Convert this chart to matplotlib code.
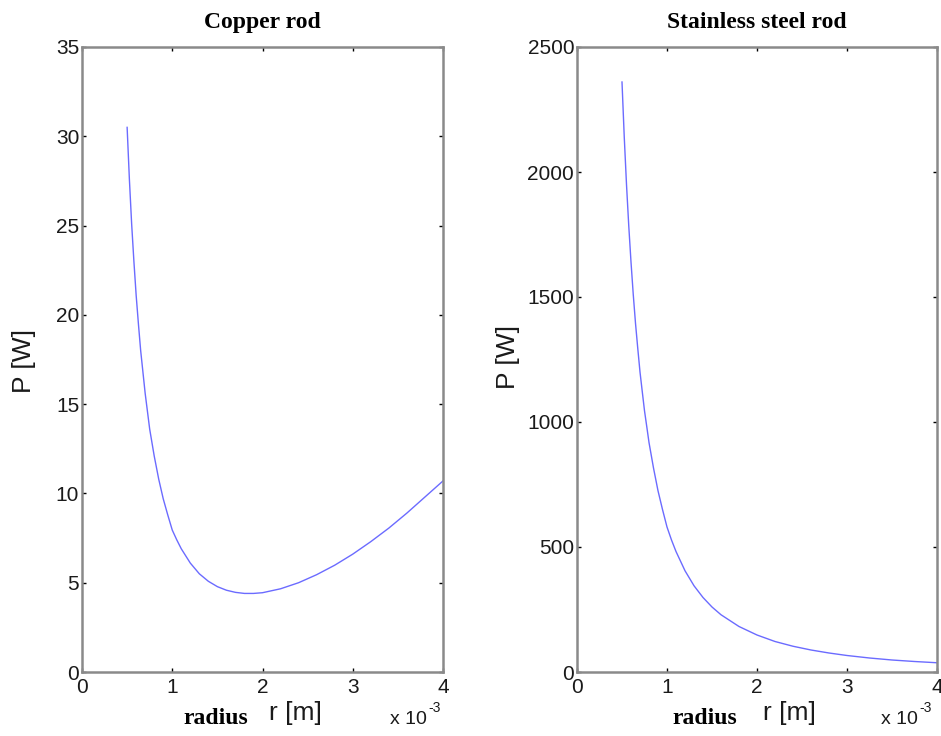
import matplotlib
matplotlib.use("Agg")
import matplotlib.pyplot as plt
from matplotlib.ticker import FuncFormatter

# radius [m] and power [W]
r_copper = [0.500e-3, 0.525e-3, 0.550e-3, 0.575e-3, 0.600e-3, 0.625e-3, 0.650e-3,
            0.675e-3, 0.700e-3, 0.725e-3, 0.750e-3, 0.775e-3, 0.800e-3, 0.850e-3,
            0.900e-3, 0.950e-3, 1.00e-3, 1.05e-3, 1.10e-3, 1.20e-3, 1.30e-3,
            1.40e-3, 1.50e-3, 1.60e-3, 1.70e-3, 1.80e-3, 1.90e-3, 2.00e-3,
            2.20e-3, 2.40e-3, 2.60e-3, 2.80e-3, 3.00e-3, 3.20e-3, 3.40e-3,
            3.60e-3, 3.80e-3, 4.00e-3]
p_copper = [30.5, 27.6, 25.1, 23.0, 21.1, 19.5, 18.0,
            16.8, 15.6, 14.6, 13.6, 12.85, 12.1, 10.8,
            9.7, 8.8, 7.95, 7.4, 6.9, 6.1, 5.5,
            5.08, 4.78, 4.58, 4.46, 4.40, 4.40, 4.44,
            4.66, 5.0, 5.45, 5.98, 6.6, 7.3, 8.06,
            8.9, 9.8, 10.7]

r_steel = [0.500e-3, 0.525e-3, 0.550e-3, 0.575e-3, 0.600e-3, 0.625e-3, 0.650e-3,
           0.675e-3, 0.700e-3, 0.725e-3, 0.750e-3, 0.775e-3, 0.800e-3, 0.850e-3,
           0.900e-3, 0.950e-3, 1.00e-3, 1.05e-3, 1.10e-3, 1.20e-3, 1.30e-3,
           1.40e-3, 1.50e-3, 1.60e-3, 1.80e-3, 2.00e-3, 2.20e-3, 2.40e-3,
           2.60e-3, 2.80e-3, 3.00e-3, 3.25e-3, 3.50e-3, 3.75e-3, 4.00e-3]
p_steel = [2360, 2140, 1950, 1785, 1640, 1510, 1395,
           1295, 1200, 1122, 1045, 982, 918, 816,
           725, 650, 580, 528, 482, 405, 345,
           298, 260, 229, 182, 148, 122, 103,
           88, 76, 66, 56, 48, 42, 37]

copper_yticks = [0, 5, 10, 15, 20, 25, 30, 35]
steel_yticks = [0, 500, 1000, 1500, 2000, 2500]
xticks = [0, 1e-3, 2e-3, 3e-3, 4e-3]

fig = plt.figure(figsize=(9.41, 7.36), dpi=100)
W, H = 941, 736

def style_axes(ax, yticks):
    ax.set_xlim(0, 4e-3)
    ax.set_ylim(yticks[0], yticks[-1])
    ax.set_xticks(xticks)
    ax.set_yticks(yticks)
    ax.xaxis.set_major_formatter(FuncFormatter(lambda v, p: f"{v * 1e3:g}"))
    ax.tick_params(direction="in", length=3, width=1, top=True, right=True,
                   labelsize=15, pad=2, colors="black")
    ax.tick_params(axis="x", pad=4)
    for lab in ax.get_xticklabels() + ax.get_yticklabels():
        lab.set_fontfamily("Liberation Sans")
        lab.set_color("#1a1a1a")
    for sp in ax.spines.values():
        sp.set_color("#8a8a8a")
        sp.set_linewidth(1.8)

# Copper rod
ax1 = fig.add_axes([82 / W, 1 - 672 / H, (443 - 82) / W, (672 - 47) / H])
ax1.plot(r_copper, p_copper, color="#6b6bff", linewidth=1.0)
style_axes(ax1, copper_yticks)
ax1.set_title("Copper rod", fontfamily="Liberation Serif", fontweight="bold",
              fontsize=17, pad=14)

# Stainless steel rod
ax2 = fig.add_axes([577 / W, 1 - 672 / H, (937 - 577) / W, (672 - 47) / H])
ax2.plot(r_steel, p_steel, color="#6b6bff", linewidth=1.0)
style_axes(ax2, steel_yticks)
ax2.set_title("Stainless steel rod", fontfamily="Liberation Serif", fontweight="bold",
              fontsize=17, pad=14)

# axis labels
lab_font = dict(fontfamily="Liberation Sans", fontsize=19, color="#1a1a1a")
fig.text(24 / W, 1 - 361 / H, "P [W]", rotation=90, ha="center", va="center", **lab_font)
fig.text(508 / W, 1 - 357 / H, "P [W]", rotation=90, ha="center", va="center", **lab_font)

for x_rad, x_r, x_exp in [(216, 295, 390), (705, 789, 881)]:
    fig.text(x_rad / W, 1 - 718 / H, "radius", ha="center", va="center",
             fontfamily="Liberation Serif", fontweight="bold", fontsize=17)
    fig.text(x_r / W, 1 - 713 / H, "r [m]", ha="center", va="center", **lab_font)
    fig.text(x_exp / W, 1 - 719 / H, "x 10", ha="left", va="center",
             fontfamily="Liberation Sans", fontsize=14, color="#1a1a1a")
    fig.text((x_exp + 38) / W, 1 - 708 / H, "-3", ha="left", va="center",
             fontfamily="Liberation Sans", fontsize=10, color="#1a1a1a")

fig.savefig("out.png", dpi=100)
